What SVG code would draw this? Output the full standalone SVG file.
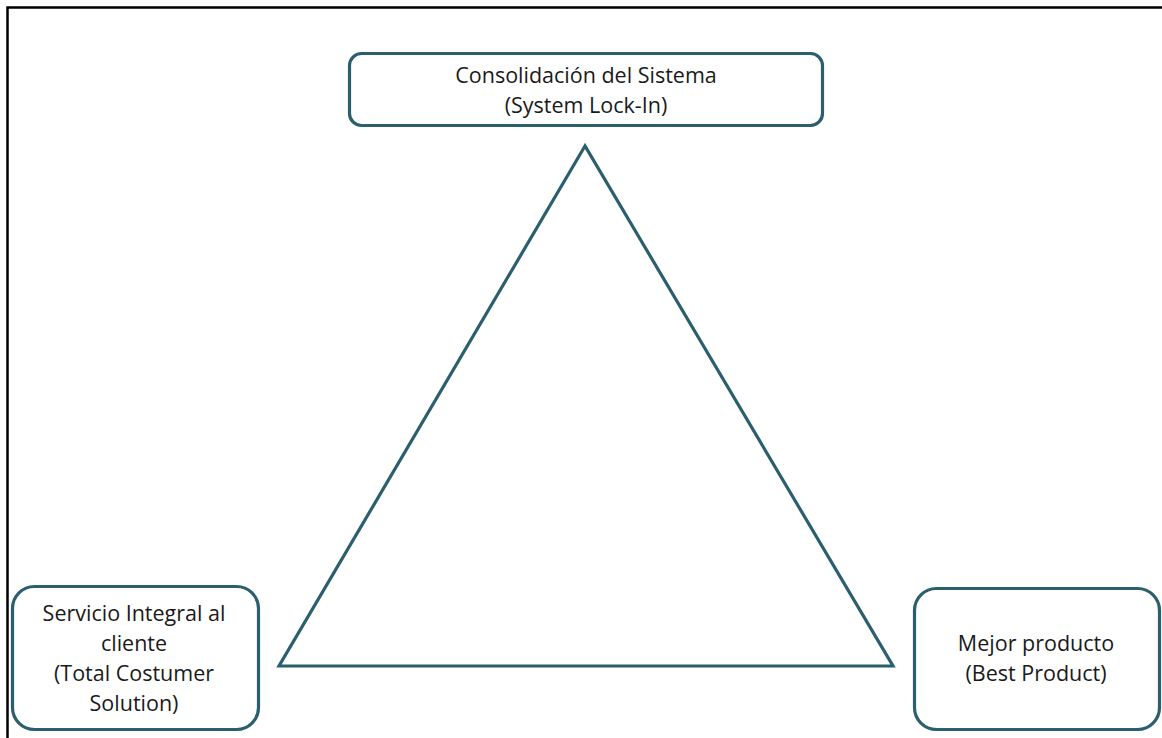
<svg xmlns="http://www.w3.org/2000/svg" width="1162" height="738" viewBox="0 0 1162 738">
<style>
.box{fill:#fff;stroke:#2b5f6e;stroke-width:3.2}
.tri{fill:none;stroke:#2b5f6e;stroke-width:3.2;stroke-linejoin:miter}
text{font-family:"Open Sans","Liberation Sans",sans-serif;font-size:21.5px;fill:#1a1a1a;text-anchor:middle}
</style>
<rect x="0" y="0" width="1162" height="738" fill="#fff"/>
<path d="M7.5 738 V7.5 H1162" fill="none" stroke="#000" stroke-width="2.5"/>
<g id="connectors">
<polygon class="tri" points="585,146 279,666 893,666"/>
</g>
<g id="node-top">
<rect class="box" x="349.5" y="53.5" width="473" height="72" rx="12"/>
<text x="586" y="83">Consolidación del Sistema</text>
<text x="586" y="113">(System Lock-In)</text>
</g>
<g id="node-left">
<rect class="box" x="12.5" y="586.5" width="246" height="143" rx="22"/>
<text x="134" y="621">Servicio Integral al</text>
<text x="134" y="651">cliente</text>
<text x="134" y="681">(Total Costumer</text>
<text x="134" y="711">Solution)</text>
</g>
<g id="node-right">
<rect class="box" x="914.5" y="588.5" width="245" height="141" rx="22"/>
<text x="1036" y="651">Mejor producto</text>
<text x="1036" y="681">(Best Product)</text>
</g>
</svg>
